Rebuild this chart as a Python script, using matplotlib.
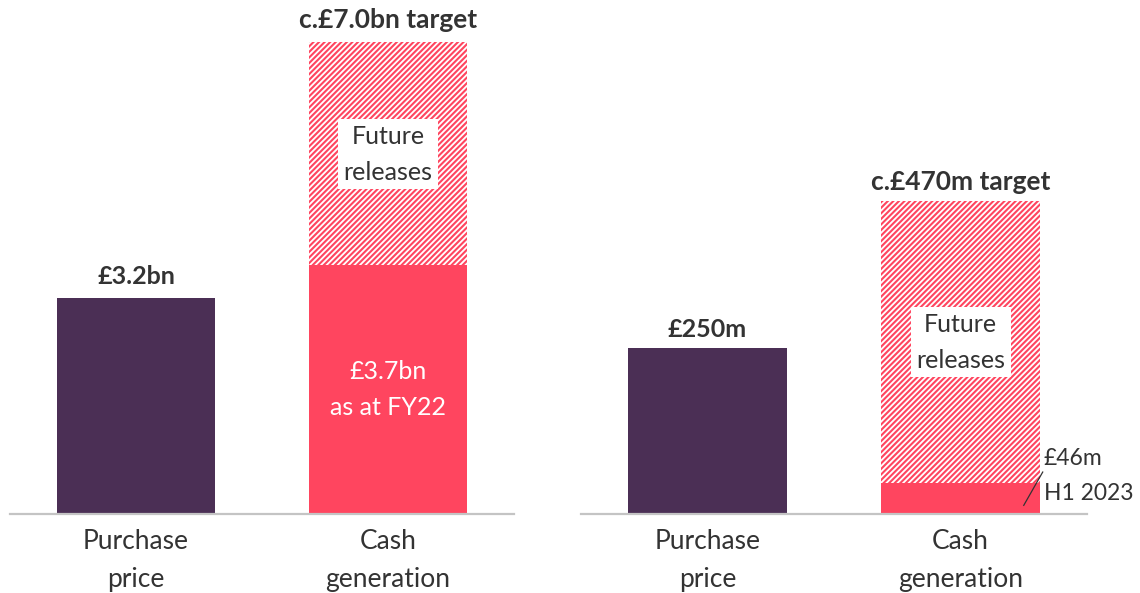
import matplotlib.pyplot as plt
import matplotlib as mpl

# data
categories = ["Purchase\nprice", "Cash\ngeneration"]
left_purchase = 3.2      # £bn
left_cash_now = 3.7      # £bn as at FY22
left_target = 7.0        # £bn
right_purchase = 250     # £m
right_cash_now = 46      # £m H1 2023
right_target = 470       # £m

PURPLE = "#4b2f55"
RED = "#ff455f"
TEXT = "#333333"
GRID = "#c4c4c4"

plt.rcParams["font.family"] = ["Lato", "DejaVu Sans"]
plt.rcParams["hatch.linewidth"] = 1.5
plt.rcParams["hatch.color"] = RED

W, H = 1140, 593
fig = plt.figure(figsize=(W / 100, H / 100), dpi=100)


def make_axes(x0, x1, ymax):
    ax = fig.add_axes([x0 / W, (H - 514) / H, (x1 - x0) / W, 514 / H])
    ax.set_xlim(-0.5, 1.5)
    ax.set_ylim(0, ymax)
    for s in ["top", "right", "left"]:
        ax.spines[s].set_visible(False)
    ax.spines["bottom"].set_color(GRID)
    ax.spines["bottom"].set_linewidth(1.6)
    ax.set_yticks([])
    ax.set_xticks([0, 1])
    ax.set_xticklabels(categories, fontsize=19, color=TEXT, linespacing=1.65)
    ax.tick_params(axis="x", length=0, pad=11)
    ax.patch.set_alpha(0)
    return ax


bw = 0.626
body = dict(fontsize=18, linespacing=1.68, ha="center", va="center")
bold = dict(fontsize=18, fontweight="bold", color=TEXT, ha="center",
            va="bottom")

# left panel
ax1 = make_axes(10, 514, 7.63)
ax1.bar(0, left_purchase, width=bw, color=PURPLE)
ax1.bar(1, left_target - left_cash_now, bottom=left_cash_now, width=bw,
        facecolor="white", edgecolor=RED, hatch="//////", linewidth=0)
ax1.bar(1, left_cash_now, width=bw, color=RED)
ax1.text(0, left_purchase + 0.15, "£3.2bn", **bold)
ax1.text(1, left_target + 0.15, "c.£7.0bn target", **{**bold, "fontsize": 19})
ax1.text(1, left_cash_now / 2, "£3.7bn\nas at FY22", color="white", **body)
ax1.text(1.0, 5.34, "Future\nreleases", color=TEXT,
         bbox=dict(facecolor="white", edgecolor="none", pad=4), **body)

# right panel
ax2 = make_axes(581, 1087, 772)
ax2.bar(0, right_purchase, width=bw, color=PURPLE)
ax2.bar(1, right_target - right_cash_now, bottom=right_cash_now, width=bw,
        facecolor="white", edgecolor=RED, hatch="//////", linewidth=0)
ax2.bar(1, right_cash_now, width=bw, color=RED)
ax2.text(0, right_purchase + 10, "£250m", **bold)
ax2.text(1, right_target + 10, "c.£470m target", **{**bold, "fontsize": 19})
ax2.text(1, 258, "Future\nreleases", color=TEXT,
         bbox=dict(facecolor="white", edgecolor="none", pad=4), **body)
ax2.text(1.33, 57, "£46m\nH1 2023", color=TEXT,
         **{**body, "ha": "left", "fontsize": 16.5, "linespacing": 1.82})
ax2.plot([1.25, 1.325], [13, 63], color=TEXT, linewidth=0.9,
         clip_on=False)

fig.savefig("out.png", dpi=100)
